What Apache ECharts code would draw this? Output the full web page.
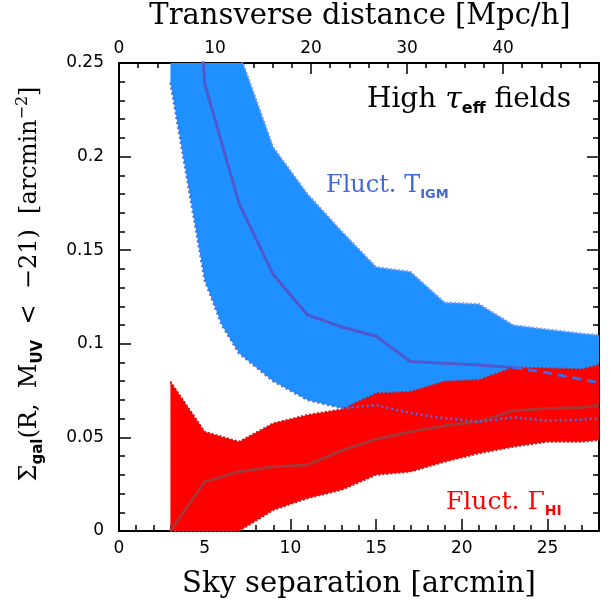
<!DOCTYPE html>
<html><head><meta charset="utf-8">
<script src="https://cdn.jsdelivr.net/npm/echarts@6/dist/echarts.min.js"></script>
<style>html,body{margin:0;padding:0;background:#fff}#c{width:611px;height:605px}</style>
</head><body><div id="c"></div>
<script>
// ---- data ----
const blueX    = [3, 5, 6, 7, 9, 11, 13, 15, 17, 19, 21, 23, 25, 27, 28];
const blueLow  = [0.2395, 0.134, 0.110, 0.095, 0.080, 0.070, 0.0656, 0.0673, 0.063, 0.0602, 0.0584, 0.0607, 0.0589, 0.0595, 0.0602];
const blueHigh = [0.36, 0.31, 0.285, 0.256, 0.205, 0.180, 0.160, 0.141, 0.1385, 0.122, 0.1213, 0.110, 0.1077, 0.1055, 0.1047];
const blueMedX = [3, 5, 7, 9, 11, 13, 15, 17, 19, 21, 23];
const blueMed  = [0.51, 0.239, 0.175, 0.137, 0.1154, 0.109, 0.104, 0.0905, 0.0896, 0.0887, 0.0874];
const blueMedDashX = [23, 25, 27, 28];
const blueMedDash  = [0.0874, 0.0845, 0.081, 0.0792];
const redX    = [3, 5, 7, 9, 11, 13, 15, 17, 19, 21, 23, 25, 27, 28];
const redLow  = [0, 0, 0, 0.0112, 0.0175, 0.022, 0.030, 0.0317, 0.037, 0.0415, 0.045, 0.0477, 0.0477, 0.0486];
const redHigh = [0.0798, 0.053, 0.0477, 0.0575, 0.062, 0.065, 0.0735, 0.0744, 0.0798, 0.0807, 0.0874, 0.0869, 0.0864, 0.0887];
const redMed  = [0, 0.0263, 0.0317, 0.0343, 0.0353, 0.043, 0.049, 0.053, 0.0563, 0.0584, 0.0643, 0.0655, 0.066, 0.0673];
const xRange = [0, 28];     // sky separation [arcmin]
const topRange = [0, 50];   // transverse distance [Mpc/h]
const yRange = [0, 0.25];

const zip = (xs, ys) => xs.map((x, i) => [x, ys[i]]);

function band(xs, lo, hi, color) {
  const data = xs.map((x, i) => [x, lo[i], hi[i]]);
  return {
    type: 'custom', coordinateSystem: 'cartesian2d', xAxisIndex: 0, yAxisIndex: 0,
    silent: true, clip: true, data: data, encode: { x: 0, y: [1, 2] },
    renderItem: function (params, api) {
      if (params.dataIndex !== 0) return null;
      const pts = [];
      for (let i = 0; i < data.length; i++) pts.push(api.coord([data[i][0], data[i][2]]));
      for (let i = data.length - 1; i >= 0; i--) pts.push(api.coord([data[i][0], data[i][1]]));
      const cs = params.coordSys;
      return {
        type: 'polygon', shape: { points: pts }, style: { fill: color },
        clipPath: { type: 'rect', shape: { x: cs.x, y: cs.y, width: cs.width, height: cs.height } }
      };
    }
  };
}
function line(xs, ys, color, width, type) {
  return {
    type: 'line', xAxisIndex: 0, yAxisIndex: 0, data: zip(xs, ys), showSymbol: false, symbol: 'none',
    silent: true, clip: true, lineStyle: { color: color, width: width, type: type || 'solid' }
  };
}

const black = '#000';
const tickStyle = { color: black, width: 1.5 };
const axisLine = { show: true, onZero: false, lineStyle: { color: black, width: 2 } };
const lab = { fontFamily: 'DejaVu Sans', fontSize: 17, color: black };

const chart = echarts.init(document.getElementById('c'), null, { renderer: 'canvas' });
chart.setOption({
  animation: false,
  backgroundColor: '#fff',
  grid: { left: 119, right: 12, top: 63, bottom: 74, containLabel: false },
  xAxis: [
    { type: 'value', position: 'bottom', min: xRange[0], max: xRange[1], interval: 5,
      axisLine: axisLine, axisTick: { inside: true, length: 12, lineStyle: tickStyle },
      axisLabel: Object.assign({ margin: 9, showMaxLabel: false }, lab), splitLine: { show: false } },
    { type: 'value', position: 'top', min: topRange[0], max: topRange[1], interval: 10,
      axisLine: axisLine, axisTick: { inside: true, length: 11, lineStyle: tickStyle },
      minorTick: { show: true, splitNumber: 5, length: 5, lineStyle: tickStyle },
      axisLabel: Object.assign({ margin: 6, showMaxLabel: false }, lab), splitLine: { show: false } },
    { type: 'value', position: 'bottom', min: xRange[0], max: xRange[1], interval: 1,
      axisLine: { show: false }, axisTick: { inside: true, length: 6, lineStyle: tickStyle },
      axisLabel: { show: false }, splitLine: { show: false } }
  ],
  yAxis: [
    { type: 'value', position: 'left', min: yRange[0], max: yRange[1], interval: 0.05,
      axisLine: axisLine, axisTick: { inside: true, length: 12, lineStyle: tickStyle },
      minorTick: { show: true, splitNumber: 5, length: 6, lineStyle: tickStyle },
      axisLabel: Object.assign({ margin: 15 }, lab), splitLine: { show: false } },
    { type: 'value', position: 'right', min: yRange[0], max: yRange[1], interval: 0.05,
      axisLine: axisLine, axisTick: { inside: true, length: 12, lineStyle: tickStyle },
      minorTick: { show: true, splitNumber: 5, length: 6, lineStyle: tickStyle },
      axisLabel: { show: false }, splitLine: { show: false } }
  ],
  series: [
    band(blueX, blueLow, blueHigh, '#1E90FF'),
    line(blueX, blueHigh, '#7d9ff0', 2, [2, 2]),
    line(blueMedX, blueMed, '#5058cc', 3),
    band(redX, redLow, redHigh, '#FF0000'),
    line(redX, redHigh, '#c81e1e', 2, [2, 2]),
    line(redX, redLow, '#c81e1e', 2, [2, 2]),
    line(redX, redMed, '#a83636', 3),
    line(blueX, blueLow, '#4a6ee6', 2.5, [2, 3]),
    line(blueMedDashX, blueMedDash, '#4169e1', 3, [9, 6])
  ],
  graphic: [
    { type: 'text', x: 360, y: 16, silent: true,
      style: { text: 'Transverse distance [Mpc/h]', fontFamily: 'DejaVu Serif', fontSize: 29, fill: black, align: 'center', verticalAlign: 'middle' } },
    { type: 'text', x: 359, y: 584, silent: true,
      style: { text: 'Sky separation [arcmin]', fontFamily: 'DejaVu Serif', fontSize: 29, fill: black, align: 'center', verticalAlign: 'middle' } },
    { type: 'text', x: 30, y: 284, rotation: Math.PI / 2, silent: true,
      style: {
        text: '{m|Σ}{s|gal}{m|(R,  M}{s|UV}{m|  <  −21)  [arcmin}{p|−2}{m|]}',
        fontFamily: 'DejaVu Serif', fontSize: 24, fill: black, align: 'center', verticalAlign: 'middle',
        rich: {
          m: { fontFamily: 'DejaVu Serif', fontSize: 24, fill: black },
          s: { fontFamily: 'DejaVu Sans', fontWeight: 'bold', fontSize: 15, fill: black, padding: [16, 0, 0, 0] },
          p: { fontFamily: 'DejaVu Serif', fontSize: 16, fill: black, padding: [0, 0, 14, 0] }
        }
      } },
    { type: 'text', x: 571, y: 100, silent: true,
      style: {
        text: '{m|High }{t|τ}{s|eff}{m| fields}',
        fontFamily: 'DejaVu Serif', fontSize: 28, fill: black, align: 'right', verticalAlign: 'middle',
        rich: {
          m: { fontFamily: 'DejaVu Serif', fontSize: 28, fill: black },
          t: { fontFamily: 'DejaVu Serif', fontStyle: 'italic', fontSize: 30, fill: black },
          s: { fontFamily: 'DejaVu Sans', fontWeight: 'bold', fontSize: 16, fill: black, padding: [18, 0, 0, 0] }
        }
      } },
    { type: 'text', x: 326, y: 186, silent: true,
      style: {
        text: '{m|Fluct. T}{s|IGM}',
        fontFamily: 'DejaVu Serif', fontSize: 24, fill: '#4169e1', align: 'left', verticalAlign: 'middle',
        rich: {
          m: { fontFamily: 'DejaVu Serif', fontSize: 24, fill: '#4169e1' },
          s: { fontFamily: 'DejaVu Sans', fontWeight: 'bold', fontSize: 13, fill: '#4169e1', padding: [18, 0, 0, 0] }
        }
      } },
    { type: 'text', x: 446, y: 502, silent: true,
      style: {
        text: '{m|Fluct. Γ}{s|HI}',
        fontFamily: 'DejaVu Serif', fontSize: 25, fill: '#ff0000', align: 'left', verticalAlign: 'middle',
        rich: {
          m: { fontFamily: 'DejaVu Serif', fontSize: 25, fill: '#ff0000' },
          s: { fontFamily: 'DejaVu Sans', fontWeight: 'bold', fontSize: 14, fill: '#ff0000', padding: [18, 0, 0, 0] }
        }
      } }
  ]
});
</script>
</body></html>
